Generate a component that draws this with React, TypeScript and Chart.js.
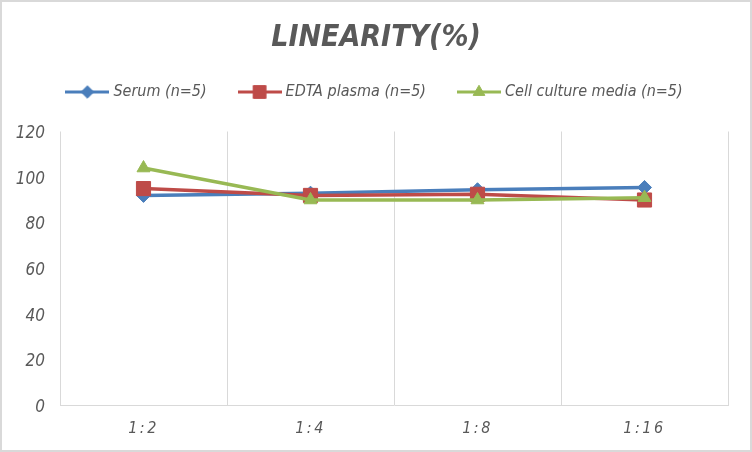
import React, { useEffect, useRef } from "react";
import { Chart, registerables } from "chart.js";
import { drawPoint } from "chart.js/helpers";

Chart.register(...registerables);

const dilutions = ["1:2", "1:4", "1:8", "1:16"];
const serum = [92, 93, 94.5, 95.5];
const edtaPlasma = [95, 92, 92.5, 90];
const cellCultureMedia = [104, 90, 90, 91];
const seriesNames = ["Serum (n=5)", "EDTA plasma (n=5)", "Cell culture media (n=5)"];
const yTicks = [0, 20, 40, 60, 80, 100, 120];

const FONT = "'Liberation Sans Narrow', 'DejaVu Sans Condensed', sans-serif";
const TEXT = "#595959";
const GRID = "#d9d9d9";

const styles = [
    { color: "#4a7ebb", pointStyle: "rectRot", radius: 7 },
    { color: "#be4b48", pointStyle: "rect", radius: 10 },
    { color: "#98b954", pointStyle: "triangle", radius: 7.5 },
];

function legendSwatch(color: string, pointStyle: string, radius: number) {
    const c = document.createElement("canvas");
    c.width = 44;
    c.height = 20;
    const ctx = c.getContext("2d")!;
    ctx.strokeStyle = color;
    ctx.fillStyle = color;
    ctx.lineWidth = 3;
    ctx.beginPath();
    ctx.moveTo(0, 10);
    ctx.lineTo(44, 10);
    ctx.stroke();
    ctx.lineWidth = 1;
    drawPoint(ctx, { pointStyle, radius: radius * 0.9, rotation: 0, borderWidth: 1 } as any, 22, 10);
    return c;
}

// x tick labels are drawn after the datasets (z: 1), spaced out like the original
const spacedTicks = {
    id: "spacedTicks",
    afterDatasetsDraw(chart: Chart) {
        (chart.ctx as any).letterSpacing = "2.5px";
    },
    afterDraw(chart: Chart) {
        (chart.ctx as any).letterSpacing = "0px";
    },
};

const App: React.FC = () => {
    const chartRef = useRef<HTMLCanvasElement | null>(null);

    useEffect(() => {
        if (!chartRef.current) return;
        const ctx = chartRef.current.getContext("2d");
        if (!ctx) return;

        const values = [serum, edtaPlasma, cellCultureMedia];
        const swatches = styles.map((s) => legendSwatch(s.color, s.pointStyle, s.radius));

        const chart = new Chart(ctx, {
            type: "line",
            data: {
                labels: dilutions,
                datasets: values.map((data, i) => ({
                    label: seriesNames[i],
                    data,
                    borderColor: styles[i].color,
                    backgroundColor: styles[i].color,
                    borderWidth: 3.5,
                    pointStyle: styles[i].pointStyle as any,
                    pointRadius: styles[i].radius,
                    pointBorderWidth: 1,
                    tension: 0,
                    order: 2 - i,
                    yAxisID: "y",
                })),
            },
            plugins: [spacedTicks],
            options: {
                animation: false,
                responsive: true,
                maintainAspectRatio: false,
                layout: { padding: 0 },
                plugins: {
                    title: {
                        display: true,
                        text: "LINEARITY(%)",
                        color: TEXT,
                        font: { family: FONT, size: 30, weight: "bold", style: "italic", lineHeight: 0.7 },
                        padding: { top: 26, bottom: 0 },
                    },
                    subtitle: {
                        display: true,
                        text: "",
                        weight: 500,
                        font: { size: 21.5, lineHeight: 1 },
                        padding: 0,
                    } as any,
                    legend: {
                        display: true,
                        labels: {
                            usePointStyle: true,
                            pointStyleWidth: 36,
                            padding: 35,
                            color: TEXT,
                            font: { family: FONT, size: 16, style: "italic" },
                            generateLabels: () =>
                                seriesNames.map((text, i) => ({
                                    text,
                                    fillStyle: styles[i].color,
                                    strokeStyle: styles[i].color,
                                    lineWidth: 0,
                                    pointStyle: swatches[i],
                                    hidden: false,
                                    datasetIndex: i,
                                    fontColor: TEXT,
                                })),
                        },
                    },
                    tooltip: { enabled: false },
                },
                scales: {
                    x: {
                        offset: true,
                        grid: { offset: true, color: GRID, drawTicks: false },
                        border: { color: GRID },
                        ticks: {
                            color: TEXT,
                            padding: 14,
                            z: 1,
                            font: { family: FONT, size: 16, style: "italic" },
                        },
                        afterFit: (scale) => {
                            scale.height = 44.5;
                        },
                    },
                    y: {
                        min: yTicks[0],
                        max: yTicks[yTicks.length - 1],
                        grid: { display: false, drawTicks: false },
                        border: { display: false },
                        ticks: {
                            stepSize: yTicks[1] - yTicks[0],
                            color: TEXT,
                            padding: 15,
                            labelOffset: 2,
                            font: { family: FONT, size: 17, style: "italic" },
                        },
                        afterFit: (scale) => {
                            scale.width = 58;
                        },
                    },
                    // empty right-hand box so the chart area ends where the original does
                    right: {
                        position: "right",
                        min: yTicks[0],
                        max: yTicks[yTicks.length - 1],
                        grid: { display: false, drawTicks: false },
                        border: { display: false },
                        ticks: { display: false },
                        afterFit: (scale) => {
                            scale.width = 22;
                        },
                    },
                },
            },
        });

        return () => {
            chart.destroy();
        };
    }, []);

    return (
        <div
            style={{
                position: "absolute",
                left: 0,
                top: 0,
                width: 752,
                height: 452,
                boxSizing: "border-box",
                border: `2px solid ${GRID}`,
                background: "#fff",
            }}
        >
            <div style={{ position: "relative", width: 748, height: 448 }}>
                <canvas ref={chartRef}></canvas>
            </div>
        </div>
    );
};

export default App;
